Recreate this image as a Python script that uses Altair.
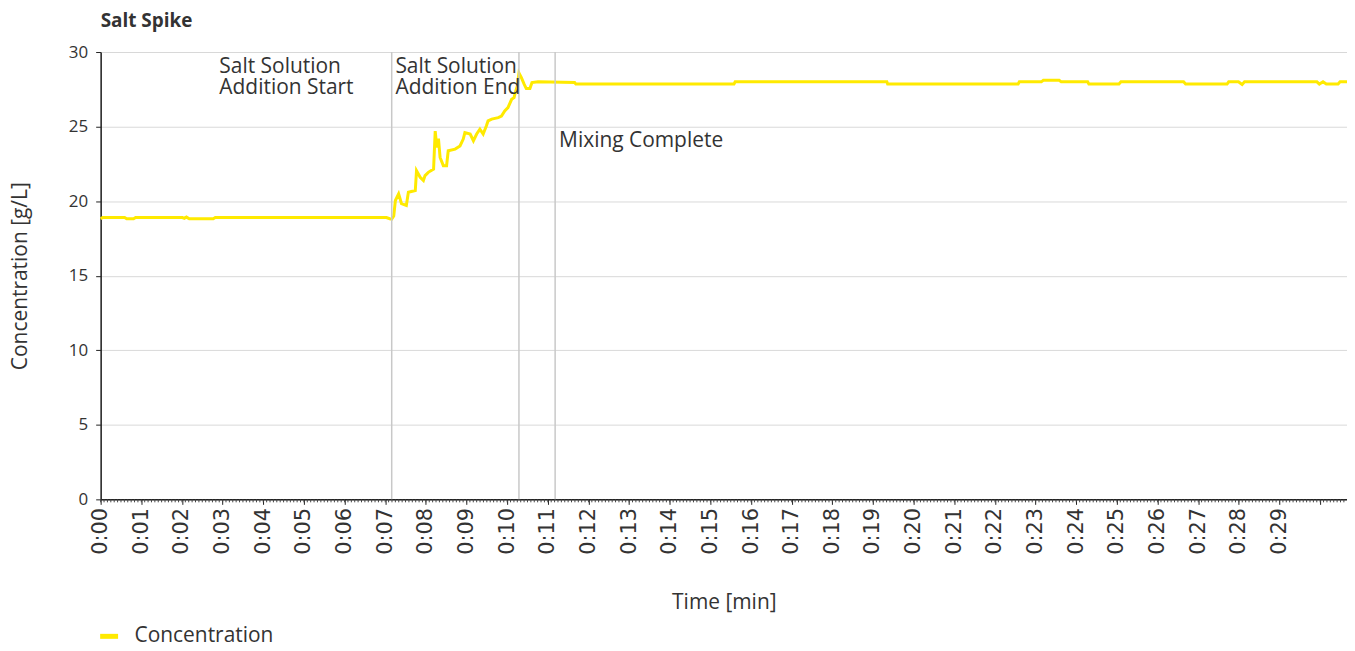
import altair as alt
import pandas as pd

# ---- data ----
time_min = [0.00, 0.05, 0.59, 0.64, 0.81, 0.86, 2.01, 2.06, 2.11, 2.18, 2.77, 2.82, 6.40, 7.03, 7.11, 7.16,
            7.21, 7.25, 7.33, 7.40, 7.52, 7.57, 7.74, 7.77, 7.86, 7.94, 7.98, 8.06, 8.19, 8.23, 8.27, 8.31,
            8.35, 8.43, 8.51, 8.55, 8.72, 8.84, 8.92, 8.96, 9.09, 9.17, 9.25, 9.33, 9.41, 9.49, 9.53, 9.62,
            9.78, 9.86, 9.94, 10.02, 10.11, 10.17, 10.20, 10.25, 10.29, 10.35, 10.42, 10.47, 10.56, 10.61,
            10.76, 11.66, 11.69, 15.58, 15.61, 19.34, 19.36, 22.57, 22.60, 23.14, 23.19, 23.58, 23.63,
            24.28, 24.31, 25.05, 25.10, 26.64, 26.69, 27.71, 27.75, 27.99, 28.08, 28.14, 29.92, 29.98,
            30.07, 30.15, 30.44, 30.49, 30.66]
concentration = [18.82, 18.90, 18.90, 18.82, 18.82, 18.90, 18.90, 18.85, 18.93, 18.82, 18.82, 18.90, 18.90, 18.90, 18.82, 18.80,
                 19.00, 20.04, 20.49, 19.84, 19.71, 20.60, 20.71, 22.04, 21.60, 21.38, 21.71, 21.93, 22.15, 24.70, 23.60, 24.20,
                 22.93, 22.38, 22.38, 23.38, 23.49, 23.70, 24.16, 24.60, 24.50, 24.05, 24.50, 24.83, 24.50, 25.05, 25.38, 25.50,
                 25.60, 25.71, 26.05, 26.27, 26.83, 26.94, 27.27, 27.72, 28.60, 28.28, 27.83, 27.55, 27.55, 27.95,
                 28.00, 27.95, 27.85, 27.85, 28.00, 28.00, 27.85, 27.85, 28.00, 28.00, 28.10, 28.10, 28.00,
                 28.00, 27.85, 27.85, 28.00, 28.00, 27.85, 27.85, 28.00, 28.00, 27.82, 28.00, 28.00, 27.85,
                 28.00, 27.85, 27.85, 28.00, 28.00]
series_name = "Concentration"

event_times = [7.16, 10.29, 11.18]
event_labels = ["Salt Solution\nAddition Start", "Salt Solution\nAddition End", "Mixing Complete"]

x_major_ticks = list(range(0, 31))
x_minor_ticks = [round(i / 12, 4) for i in range(0, 368)]
y_ticks = [0, 5, 10, 15, 20, 25, 30]

# ---- styling ----
FONT = "Open Sans"
TEXT = "#333333"
YELLOW = "#ffea00"
W, H = 1251, 449

df = pd.DataFrame({"t": time_min, "v": concentration, "series": series_name})
ev = pd.DataFrame({"t": event_times, "label": event_labels})
minor = pd.DataFrame({"t": x_minor_ticks})

x_scale = alt.Scale(domain=[0, 30.66], nice=False, zero=False)
y_scale = alt.Scale(domain=[0, 30], nice=False)

label_expr = "datum.value < 30 ? '0:' + (datum.value < 10 ? '0' : '') + datum.value : ''"

x_axis = alt.Axis(
    values=x_major_ticks, labelExpr=label_expr, labelAngle=-90, labelFont="DejaVu Sans",
    labelFontSize=21, labelColor=TEXT, labelPadding=3, tickSize=5, tickColor="#222222",
    domainColor="#222222", domainWidth=1.5, grid=False,
    title="Time [min]", titleFont=FONT, titleFontSize=21, titleFontWeight="normal",
    titleColor=TEXT, titleX=625.5, titleY=104, titleAlign="center", titleBaseline="middle")

y_axis = alt.Axis(
    values=y_ticks, labelFont=FONT, labelFontSize=17, labelColor=TEXT, labelPadding=8,
    tickSize=5, tickColor="#222222", domainColor="#222222", domainWidth=1.5,
    grid=True, gridColor="#d9d9d9", gridWidth=1,
    title="Concentration [g/L]", titleFont=FONT, titleFontSize=21, titleFontWeight="normal",
    titleColor=TEXT, titleAngle=-90, titleX=-80, titleY=224.5, titleAlign="center",
    titleBaseline="middle")

line = alt.Chart(df).mark_line(strokeWidth=3, interpolate="linear").encode(
    x=alt.X("t:Q", scale=x_scale, axis=x_axis),
    y=alt.Y("v:Q", scale=y_scale, axis=y_axis),
    color=alt.Color("series:N", scale=alt.Scale(domain=[series_name], range=[YELLOW]),
                    legend=alt.Legend(orient="none", legendX=-3, legendY=575, title=None,
                                      symbolType="stroke", symbolStrokeWidth=5, symbolSize=324,
                                      labelFont=FONT, labelFontSize=21, labelColor=TEXT,
                                      labelOffset=14, padding=0)),
)

rules = alt.Chart(ev).mark_rule(color="#c8c8c8", strokeWidth=1.5).encode(
    x=alt.X("t:Q", scale=x_scale, axis=x_axis),
    y=alt.datum(0, scale=y_scale, axis=y_axis),
    y2=alt.datum(30),
)

minor_ticks = alt.Chart(minor).mark_rule(color="#444444", strokeWidth=1).encode(
    x=alt.X("t:Q", scale=x_scale, axis=x_axis),
    y=alt.value(H),
    y2=alt.value(H + 3),
)

def label_layer(i, dx, yval):
    d = pd.DataFrame({"t": [event_times[i]], "label": [event_labels[i]]})
    return alt.Chart(d).mark_text(align="left", baseline="alphabetic", dx=dx, font=FONT,
                                  fontSize=21, color=TEXT, lineBreak="\n", lineHeight=21).encode(
        x=alt.X("t:Q", scale=x_scale, axis=x_axis),
        y=alt.datum(yval, scale=y_scale, axis=y_axis),
        text="label:N",
    )

t_start = label_layer(0, -173, 28.6)
t_end = label_layer(1, -124, 28.6)
t_mix = label_layer(2, 4, 23.65)

chart = alt.layer(line, rules, t_start, t_end, t_mix, minor_ticks).properties(
    width=W, height=H,
    title=alt.TitleParams("Salt Spike", anchor="start", font=FONT, fontSize=19, fontWeight="bold",
                          color=TEXT, offset=12, frame="group"),
    autosize=alt.AutoSizeParams(type="none"),
    padding={"left": 93, "top": 43, "right": 0, "bottom": 143},
).configure_view(stroke="#d0d0d0", strokeWidth=1)

chart.save("out.html", embed_options={"renderer": "svg", "actions": False})
